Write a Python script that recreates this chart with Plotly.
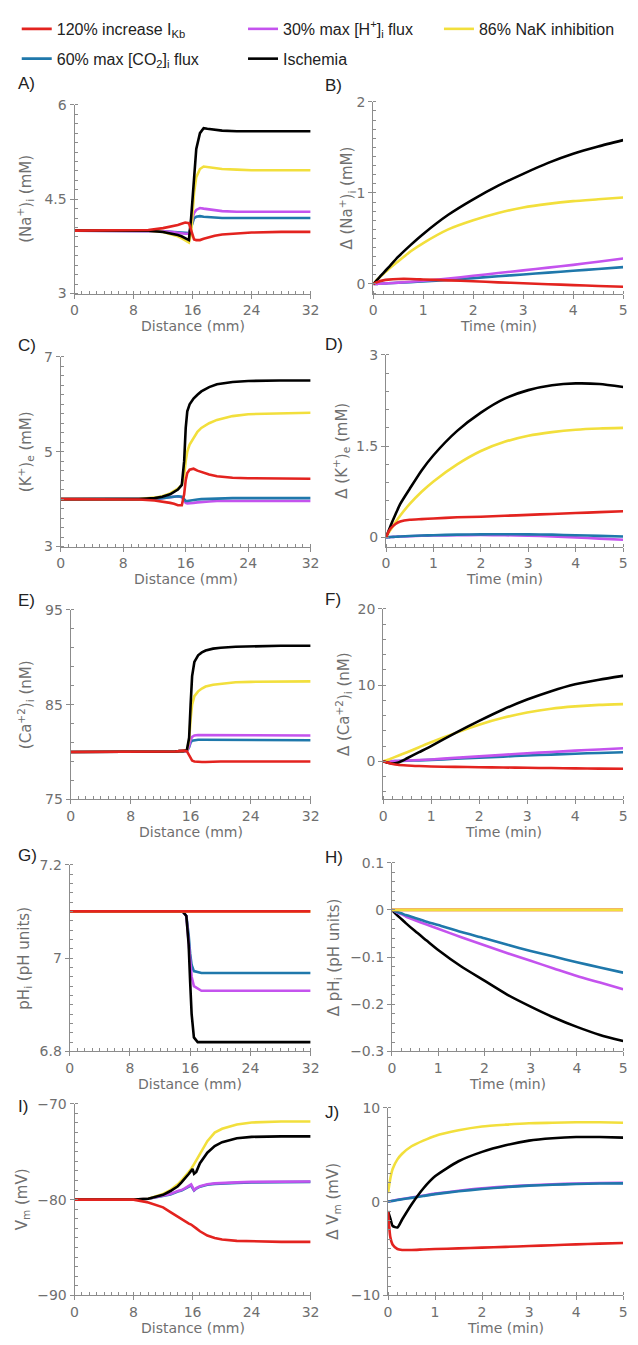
import plotly.graph_objects as go

W, H = 638, 1345

# ---------------- colours / names ----------------
COLORS = {"red": "#e3231f", "blue": "#1f78ab", "purple": "#c453ee",
          "black": "#000000", "yellow": "#f2df3c"}
NAMES = {"red": "120% increase I<sub>Kb</sub>",
         "blue": "60% max [CO<sub>2</sub>]<sub>i</sub> flux",
         "purple": "30% max [H<sup>+</sup>]<sub>i</sub> flux",
         "black": "Ischemia",
         "yellow": "86% NaK inhibition"}
LEGEND_OF = {"red": "legend", "blue": "legend", "purple": "legend2",
             "black": "legend2", "yellow": "legend3"}
RANK = {"red": 1, "blue": 2, "purple": 1, "black": 2, "yellow": 1}

# ---------------- data: distance panels ----------------
DIST = [0, 4, 8, 10, 12, 13, 14, 14.5, 15, 15.5, 15.8, 16, 16.2, 16.5, 17, 17.5, 18, 19, 20, 22, 24, 28, 32]

A_black  = [4.0, 4.0, 4.0, 4.0, 3.98, 3.96, 3.93, 3.91, 3.88, 3.85, 4.2, 4.5, 4.9, 5.3, 5.55, 5.63, 5.62, 5.6, 5.59, 5.58, 5.58, 5.58, 5.58]
A_yellow = [4.0, 4.0, 4.0, 4.0, 3.98, 3.95, 3.91, 3.88, 3.85, 3.81, 3.95, 4.3, 4.6, 4.85, 4.98, 5.02, 5.01, 4.99, 4.98, 4.97, 4.96, 4.96, 4.96]
A_purple = [4.0, 4.0, 4.0, 4.0, 3.99, 3.98, 3.96, 3.95, 3.95, 3.95, 4.05, 4.2, 4.28, 4.33, 4.36, 4.35, 4.34, 4.32, 4.31, 4.3, 4.3, 4.3, 4.3]
A_blue   = [4.0, 4.0, 4.0, 4.0, 3.99, 3.98, 3.97, 3.96, 3.96, 3.96, 4.05, 4.15, 4.2, 4.22, 4.23, 4.22, 4.22, 4.21, 4.2, 4.2, 4.2, 4.2, 4.2]
A_red    = [4.0, 4.0, 4.0, 4.01, 4.04, 4.06, 4.09, 4.11, 4.13, 4.12, 4.0, 3.9, 3.86, 3.85, 3.85, 3.87, 3.89, 3.92, 3.94, 3.96, 3.97, 3.98, 3.98]

C_black  = [4.0, 4.0, 4.0, 4.0, 4.02, 4.05, 4.1, 4.15, 4.2, 4.3, 4.8, 5.5, 5.85, 6.0, 6.12, 6.2, 6.27, 6.36, 6.42, 6.47, 6.49, 6.5, 6.5]
C_yellow = [4.0, 4.0, 4.0, 4.0, 4.03, 4.06, 4.12, 4.17, 4.22, 4.3, 4.5, 4.8, 5.0, 5.15, 5.3, 5.42, 5.5, 5.6, 5.67, 5.75, 5.79, 5.81, 5.82]
C_purple = [4.0, 4.0, 4.0, 4.0, 4.01, 4.02, 4.04, 4.05, 4.06, 4.04, 3.97, 3.92, 3.91, 3.91, 3.92, 3.93, 3.94, 3.95, 3.96, 3.96, 3.96, 3.96, 3.96]
C_blue   = [4.0, 4.0, 4.0, 4.0, 4.01, 4.02, 4.04, 4.05, 4.06, 4.05, 4.0, 3.96, 3.96, 3.97, 3.98, 3.99, 4.0, 4.01, 4.01, 4.02, 4.02, 4.02, 4.02]
C_red    = [4.0, 4.0, 4.0, 3.99, 3.97, 3.95, 3.92, 3.9, 3.87, 3.87, 4.1, 4.4, 4.55, 4.62, 4.64, 4.6, 4.57, 4.52, 4.48, 4.45, 4.44, 4.43, 4.43]

E_black  = [80.0, 80.0, 80.0, 80.0, 80.0, 80.0, 80.05, 80.1, 80.1, 80.2, 81.5, 85.0, 88.0, 89.5, 90.2, 90.5, 90.7, 90.9, 91.0, 91.1, 91.15, 91.2, 91.2]
E_yellow = [80.0, 80.0, 80.0, 80.0, 80.0, 80.0, 80.05, 80.1, 80.1, 80.2, 81.2, 83.5, 85.0, 85.9, 86.4, 86.7, 86.9, 87.1, 87.2, 87.35, 87.4, 87.45, 87.45]
E_purple = [80.0, 80.0, 80.0, 80.0, 80.0, 80.0, 80.05, 80.1, 80.1, 80.1, 80.6, 81.3, 81.6, 81.75, 81.8, 81.8, 81.8, 81.75, 81.75, 81.75, 81.75, 81.75, 81.75]
E_blue   = [80.0, 80.0, 80.0, 80.0, 80.0, 80.0, 80.05, 80.1, 80.1, 80.1, 80.5, 81.0, 81.2, 81.25, 81.3, 81.3, 81.3, 81.25, 81.25, 81.25, 81.25, 81.25, 81.25]
E_red    = [80.0, 80.0, 80.0, 80.0, 80.0, 80.0, 80.05, 80.1, 80.15, 80.1, 79.6, 79.3, 79.1, 79.0, 78.95, 78.95, 78.95, 79.0, 79.0, 79.0, 79.0, 79.0, 79.0]

G_black  = [7.1, 7.1, 7.1, 7.1, 7.1, 7.1, 7.1, 7.1, 7.1, 7.09, 7.03, 6.95, 6.88, 6.83, 6.82, 6.82, 6.82, 6.82, 6.82, 6.82, 6.82, 6.82, 6.82]
G_yellow = [7.1] * 23
G_purple = [7.1, 7.1, 7.1, 7.1, 7.1, 7.1, 7.1, 7.1, 7.1, 7.09, 7.04, 7.0, 6.96, 6.94, 6.935, 6.93, 6.93, 6.93, 6.93, 6.93, 6.93, 6.93, 6.93]
G_blue   = [7.1, 7.1, 7.1, 7.1, 7.1, 7.1, 7.1, 7.1, 7.1, 7.09, 7.05, 7.01, 6.985, 6.972, 6.97, 6.968, 6.968, 6.968, 6.968, 6.968, 6.968, 6.968, 6.968]
G_red    = [7.1] * 23

I_black  = [-80.0, -80.0, -80.0, -79.9, -79.5, -79.1, -78.6, -78.2, -77.8, -77.3, -77.0, -76.8, -77.3, -77.1, -76.2, -75.6, -75.1, -74.4, -74.0, -73.6, -73.45, -73.4, -73.4]
I_yellow = [-80.0, -80.0, -80.0, -79.9, -79.4, -79.0, -78.4, -78.0, -77.6, -77.1, -76.8, -76.6, -76.3, -75.9, -75.2, -74.5, -73.9, -73.0, -72.6, -72.15, -71.95, -71.85, -71.85]
I_purple = [-80.0, -80.0, -80.0, -79.9, -79.6, -79.4, -79.1, -79.0, -78.8, -78.6, -78.4, -78.7, -79.0, -78.8, -78.6, -78.5, -78.4, -78.3, -78.25, -78.2, -78.15, -78.1, -78.1]
I_blue   = [-80.0, -80.0, -80.0, -79.9, -79.65, -79.45, -79.15, -79.05, -78.85, -78.65, -78.5, -78.8, -79.05, -78.85, -78.65, -78.55, -78.45, -78.35, -78.3, -78.25, -78.2, -78.15, -78.15]
I_red    = [-80.0, -80.0, -80.0, -80.3, -80.8, -81.3, -81.8, -82.05, -82.3, -82.5, -82.6, -82.7, -82.85, -83.0, -83.3, -83.55, -83.75, -84.0, -84.15, -84.3, -84.35, -84.4, -84.4]

# ---------------- data: time panels ----------------
TIME = [0, 0.05, 0.1, 0.2, 0.3, 0.5, 0.75, 1, 1.5, 2, 2.5, 3, 3.5, 4, 4.5, 5]

B_black  = [0, 0.03, 0.06, 0.12, 0.18, 0.3, 0.43, 0.55, 0.76, 0.93, 1.08, 1.21, 1.33, 1.43, 1.51, 1.58]
B_yellow = [0, 0.03, 0.06, 0.11, 0.16, 0.25, 0.36, 0.45, 0.6, 0.7, 0.78, 0.84, 0.88, 0.91, 0.93, 0.95]
B_purple = [0, 0, 0.002, 0.005, 0.008, 0.015, 0.025, 0.035, 0.06, 0.09, 0.12, 0.15, 0.18, 0.21, 0.245, 0.28]
B_blue   = [0, 0, 0.002, 0.005, 0.008, 0.013, 0.02, 0.028, 0.045, 0.065, 0.085, 0.105, 0.125, 0.145, 0.165, 0.185]
B_red    = [0, 0.015, 0.025, 0.04, 0.048, 0.055, 0.055, 0.05, 0.04, 0.03, 0.018, 0.008, -0.002, -0.012, -0.022, -0.03]

D_black  = [0, 0.1, 0.2, 0.38, 0.55, 0.8, 1.1, 1.35, 1.75, 2.05, 2.28, 2.42, 2.5, 2.53, 2.52, 2.47]
D_yellow = [0, 0.07, 0.13, 0.25, 0.36, 0.55, 0.75, 0.92, 1.2, 1.42, 1.57, 1.67, 1.73, 1.77, 1.79, 1.8]
D_purple = [0, 0.003, 0.006, 0.01, 0.014, 0.02, 0.026, 0.03, 0.036, 0.038, 0.035, 0.028, 0.015, 0.0, -0.02, -0.04]
D_blue   = [0, 0.003, 0.006, 0.01, 0.015, 0.022, 0.03, 0.036, 0.045, 0.05, 0.052, 0.05, 0.045, 0.035, 0.025, 0.015]
D_red    = [0, 0.09, 0.15, 0.22, 0.26, 0.29, 0.3, 0.31, 0.33, 0.34, 0.355, 0.37, 0.385, 0.4, 0.415, 0.43]

F_black  = [0, -0.1, -0.2, -0.3, -0.2, 0.4, 1.2, 2.0, 3.7, 5.3, 6.8, 8.1, 9.2, 10.1, 10.7, 11.2]
F_yellow = [0, 0.1, 0.2, 0.45, 0.7, 1.2, 1.85, 2.5, 3.7, 4.8, 5.7, 6.4, 6.9, 7.2, 7.4, 7.5]
F_purple = [0, 0, 0.01, 0.03, 0.05, 0.1, 0.17, 0.25, 0.45, 0.65, 0.85, 1.05, 1.22, 1.4, 1.55, 1.72]
F_blue   = [0, 0, 0.01, 0.02, 0.04, 0.08, 0.13, 0.19, 0.33, 0.48, 0.62, 0.76, 0.88, 1.0, 1.1, 1.2]
F_red    = [0, -0.1, -0.2, -0.35, -0.45, -0.55, -0.62, -0.67, -0.73, -0.77, -0.81, -0.85, -0.88, -0.92, -0.95, -0.98]

H_black  = [0, -0.005, -0.01, -0.019, -0.028, -0.045, -0.065, -0.085, -0.12, -0.15, -0.18, -0.205, -0.228, -0.248, -0.265, -0.278]
H_yellow = [0] * 16
H_purple = [0, -0.002, -0.005, -0.009, -0.014, -0.022, -0.031, -0.04, -0.058, -0.075, -0.092, -0.108, -0.124, -0.14, -0.154, -0.168]
H_blue   = [0, -0.002, -0.004, -0.007, -0.011, -0.017, -0.025, -0.032, -0.047, -0.06, -0.074, -0.087, -0.099, -0.111, -0.122, -0.133]
H_red    = [0] * 16

J_black  = [-1.0, -1.8, -2.6, -2.75, -1.9, -0.3, 1.4, 2.7, 4.3, 5.3, 6.0, 6.5, 6.75, 6.88, 6.88, 6.82]
J_yellow = [0.9, 2.5, 3.5, 4.5, 5.1, 5.9, 6.5, 7.0, 7.6, 8.0, 8.2, 8.35, 8.4, 8.45, 8.45, 8.4]
J_purple = [0, 0.05, 0.1, 0.2, 0.28, 0.45, 0.65, 0.85, 1.15, 1.42, 1.6, 1.75, 1.85, 1.93, 1.98, 2.0]
J_blue   = [0, 0.04, 0.08, 0.17, 0.25, 0.4, 0.6, 0.8, 1.1, 1.35, 1.55, 1.7, 1.8, 1.88, 1.93, 1.95]
J_red    = [-1.0, -3.8, -4.6, -5.05, -5.15, -5.15, -5.1, -5.05, -4.98, -4.9, -4.82, -4.73, -4.64, -4.55, -4.47, -4.4]

DIST_TICKS = [0, 8, 16, 24, 32]
TIME_TICKS = [0, 1, 2, 3, 4, 5]

# ---------------- panel definitions ----------------
# box = (left, right, top, bottom) in px ; ly = panel-letter centre (px)
PANELS = [
    dict(letter="A)", ly=76, box=(72, 313, 98, 289), x=DIST, yr=[3, 6], yt=[3, 4.5, 6], ymin=0.15,
         ytitle="(Na<sup>+</sup>)<sub>i</sub> (mM)", tx=21,
         s={"blue": A_blue, "purple": A_purple, "yellow": A_yellow, "black": A_black, "red": A_red}),
    dict(letter="B)", ly=78, box=(377, 632, 95, 289), x=TIME, yr=[-0.105, 2], yt=[0, 1, 2], ymin=0.1,
         ytitle="Δ (Na<sup>+</sup>)<sub>i</sub> (mM)", tx=350,
         s={"blue": B_blue, "purple": B_purple, "yellow": B_yellow, "black": B_black, "red": B_red}),
    dict(letter="C)", ly=342, box=(58, 313, 353, 545), x=DIST, yr=[3, 7], yt=[3, 5, 7], ymin=0.2,
         ytitle="(K<sup>+</sup>)<sub>e</sub> (mM)", tx=22,
         s={"purple": C_purple, "blue": C_blue, "yellow": C_yellow, "black": C_black, "red": C_red}),
    dict(letter="D)", ly=341, box=(390, 632, 351, 545), x=TIME, yr=[-0.15, 3], yt=[0, 1.5, 3], ymin=0.3,
         ytitle="Δ (K<sup>+</sup>)<sub>e</sub> (mM)", tx=344,
         s={"purple": D_purple, "blue": D_blue, "yellow": D_yellow, "black": D_black, "red": D_red}),
    dict(letter="E)", ly=600, box=(68, 313, 609, 801), x=DIST, yr=[75, 95], yt=[75, 85, 95], ymin=2,
         ytitle="(Ca<sup>+2</sup>)<sub>i</sub> (nM)", tx=22,
         s={"blue": E_blue, "purple": E_purple, "yellow": E_yellow, "black": E_black, "red": E_red}),
    dict(letter="F)", ly=599, box=(387, 632, 608, 801), x=TIME, yr=[-5, 20], yt=[0, 10, 20], ymin=2,
         ytitle="Δ (Ca<sup>+2</sup>)<sub>i</sub> (nM)", tx=346,
         s={"blue": F_blue, "purple": F_purple, "yellow": F_yellow, "black": F_black, "red": F_red}),
    dict(letter="G)", ly=858, box=(67, 313, 867, 1056), x=DIST, yr=[6.8, 7.2], yt=[6.8, 7, 7.2], ymin=0.02,
         ytitle="pH<sub>i</sub> (pH units)", tx=20,
         s={"blue": G_blue, "purple": G_purple, "black": G_black, "yellow": G_yellow, "red": G_red}),
    dict(letter="H)", ly=860, box=(396, 632, 865, 1056), x=TIME, yr=[-0.3, 0.1], yt=[-0.3, -0.2, -0.1, 0, 0.1], ymin=0.02,
         ytitle="Δ pH<sub>i</sub> (pH units)", tx=337,
         s={"black": H_black, "purple": H_purple, "blue": H_blue, "red": H_red, "yellow": H_yellow}),
    dict(letter="I)", ly=1112, box=(72, 313, 1109, 1303), x=DIST, yr=[-90, -70], yt=[-90, -80, -70], ymin=1,
         ytitle="V<sub>m</sub> (mV)", tx=19,
         s={"blue": I_blue, "purple": I_purple, "yellow": I_yellow, "black": I_black, "red": I_red}),
    dict(letter="J)", ly=1118, box=(392, 632, 1113, 1303), x=TIME, yr=[-10, 10], yt=[-10, 0, 10], ymin=1,
         ytitle="Δ V<sub>m</sub> (mV)", tx=336,
         s={"purple": J_purple, "blue": J_blue, "yellow": J_yellow, "black": J_black, "red": J_red}),
]

AXC = "#8c8c8c"
TXC = "#6f6f6f"
FONT = "DejaVu Sans"

fig = go.Figure()
annotations = []
layout_axes = {}

for i, p in enumerate(PANELS):
    n = i + 1
    xa = "x" if n == 1 else f"x{n}"
    ya = "y" if n == 1 else f"y{n}"
    left, right, top, bottom = p["box"]
    is_dist = p["x"] is DIST
    for key, vals in p["s"].items():
        fig.add_trace(go.Scatter(
            x=p["x"], y=vals, xaxis=xa, yaxis=ya, mode="lines",
            line=dict(color=COLORS[key], width=2.6,
                      shape="linear" if is_dist else "spline", smoothing=0.6),
            name=NAMES[key], showlegend=(n == 1), legend=LEGEND_OF[key],
            legendrank=RANK[key], legendgroup=key, hoverinfo="skip"))
    common = dict(showline=True, linecolor=AXC, linewidth=1, showgrid=False, zeroline=False,
                  ticks="outside", ticklen=4, tickcolor=AXC, tickwidth=1,
                  tickfont=dict(family=FONT, size=14, color=TXC))
    layout_axes["xaxis" if n == 1 else f"xaxis{n}"] = dict(
        common, domain=[left / W, right / W], anchor=ya,
        range=[0, 32] if is_dist else [0, 5],
        tickvals=DIST_TICKS if is_dist else TIME_TICKS,
        minor=dict(ticks="inside", ticklen=3, tickcolor=AXC, dtick=1 if is_dist else 0.2))
    layout_axes["yaxis" if n == 1 else f"yaxis{n}"] = dict(
        common, domain=[1 - bottom / H, 1 - top / H], anchor=xa,
        range=p["yr"], tickvals=p["yt"],
        minor=dict(ticks="inside", ticklen=3, tickcolor=AXC, dtick=p["ymin"], tick0=p["yt"][0]))
    # x-axis title
    annotations.append(dict(text="Distance (mm)" if is_dist else "Time (min)",
                            x=(left + right) / 2 / W, y=1 - (bottom + 33) / H,
                            xref="paper", yref="paper", xanchor="center", yanchor="middle",
                            showarrow=False, font=dict(family=FONT, size=14, color=TXC)))
    # y-axis title
    annotations.append(dict(text=p["ytitle"], x=p["tx"] / W, y=1 - (top + bottom) / 2 / H,
                            xref="paper", yref="paper", xanchor="center", yanchor="middle",
                            textangle=-90, showarrow=False,
                            font=dict(family=FONT, size=15, color=TXC)))
    # panel letter
    annotations.append(dict(text=p["letter"], x=(12 if left < 200 else 326) / W,
                            y=1 - p["ly"] / H, xref="paper", yref="paper",
                            xanchor="left", yanchor="middle", showarrow=False,
                            font=dict(family="Liberation Sans", size=17, color="#222222")))

leg_common = dict(orientation="v", xanchor="left", yanchor="top", bgcolor="rgba(0,0,0,0)",
                  font=dict(family="Liberation Sans", size=16, color="#222222"),
                  tracegroupgap=6, itemwidth=30, traceorder="grouped")

fig.update_layout(
    width=W, height=H, margin=dict(l=0, r=0, t=0, b=0),
    paper_bgcolor="white", plot_bgcolor="white",
    annotations=annotations,
    legend=dict(leg_common, x=13 / W, y=1 - 4 / H),
    legend2=dict(leg_common, x=244 / W, y=1 - 4 / H),
    legend3=dict(leg_common, x=444 / W, y=1 - 4 / H),
    **layout_axes)

fig.write_html("out.html", config={"displayModeBar": False},
               post_script="document.body.style.margin='0';")
